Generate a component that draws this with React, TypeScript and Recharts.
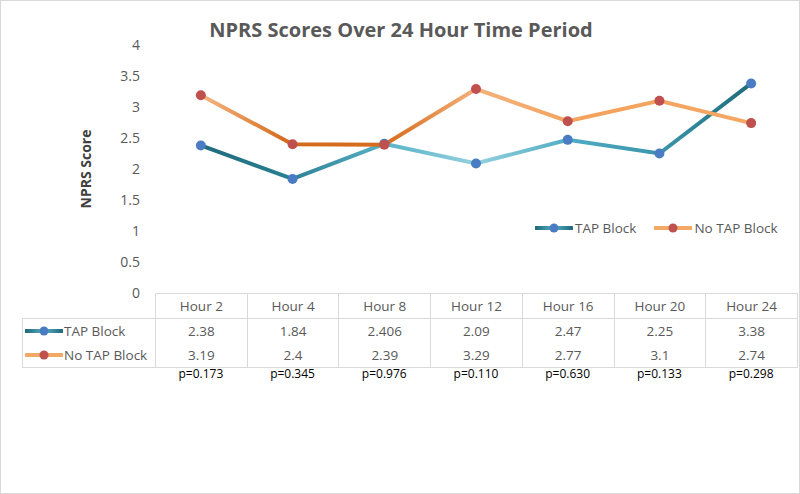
import React from 'react';
import { LineChart, Line, XAxis, YAxis } from 'recharts';

const hours = ['Hour 2', 'Hour 4', 'Hour 8', 'Hour 12', 'Hour 16', 'Hour 20', 'Hour 24'];
const tapBlock = [2.38, 1.84, 2.406, 2.09, 2.47, 2.25, 3.38];
const noTapBlock = [3.19, 2.4, 2.39, 3.29, 2.77, 3.1, 2.74];
const pValues = ['p=0.173', 'p=0.345', 'p=0.976', 'p=0.110', 'p=0.630', 'p=0.133', 'p=0.298'];
const yTicks = [0, 0.5, 1, 1.5, 2, 2.5, 3, 3.5, 4];

const seriesNames = ['TAP Block', 'No TAP Block'];

const chartData = hours.map((h, i) => ({ hour: h, tap: tapBlock[i], noTap: noTapBlock[i] }));

const FONT = '"Open Sans", sans-serif';
const GREY = '#595959';
const BORDER = '#d9d9d9';
const PLOT_LEFT = 155;
const PLOT_RIGHT = 3;
const COL_W = (800 - PLOT_LEFT - PLOT_RIGHT) / hours.length;
const FIRST_W = PLOT_LEFT - 22;

const LegendIcon = ({ grad, dot }: { grad: string; dot: string }) => (
    <svg width={38} height={12} style={{ display: 'block' }}>
        <line x1={1} y1={6} x2={37} y2={6} stroke={`url(#${grad})`} strokeWidth={4} strokeLinecap="round" />
        <circle cx={19} cy={6} r={4.5} fill={dot} />
    </svg>
);

const Gradients = () => (
    <defs>
        <linearGradient id="tapGrad" x1="0" y1="0" x2="1" y2="0">
            <stop offset="0" stopColor="#1f6b7a" />
            <stop offset="0.16" stopColor="#2a7f93" />
            <stop offset="0.33" stopColor="#58b1c7" />
            <stop offset="0.5" stopColor="#94d0de" />
            <stop offset="0.68" stopColor="#4eaac2" />
            <stop offset="0.84" stopColor="#3a94a9" />
            <stop offset="1" stopColor="#1f6b7a" />
        </linearGradient>
        <linearGradient id="noTapGrad" x1="0" y1="0" x2="1" y2="0">
            <stop offset="0" stopColor="#f6b784" />
            <stop offset="0.16" stopColor="#d3691b" />
            <stop offset="0.34" stopColor="#d76d1f" />
            <stop offset="0.5" stopColor="#f4b17b" />
            <stop offset="0.7" stopColor="#f3a25c" />
            <stop offset="1" stopColor="#f4a865" />
        </linearGradient>
    </defs>
);

export default function App() {
    const cellBase: React.CSSProperties = {
        borderLeft: `1px solid ${BORDER}`,
        borderRight: `1px solid ${BORDER}`,
        textAlign: 'center',
        verticalAlign: 'top',
        padding: 0,
        paddingTop: 3,
        height: 21,
        color: GREY,
    };

    return (
        <div style={{ position: 'relative', width: 800, height: 494, boxSizing: 'border-box', border: `1px solid ${BORDER}`, background: '#fff', fontFamily: FONT, overflow: 'hidden' }}>
            <style>{`body{margin:0}`}</style>
            {/* legend icon gradients */}
            <svg width={0} height={0} style={{ position: 'absolute' }}>
                <defs>
                    <linearGradient id="tapGradL" x1="1" y1="0" x2="37" y2="0" gradientUnits="userSpaceOnUse">
                        <stop offset="0" stopColor="#1f6b7a" />
                        <stop offset="0.5" stopColor="#58b1c7" />
                        <stop offset="1" stopColor="#1f6b7a" />
                    </linearGradient>
                    <linearGradient id="noTapGradL" x1="1" y1="0" x2="37" y2="0" gradientUnits="userSpaceOnUse">
                        <stop offset="0" stopColor="#f4a865" />
                        <stop offset="1" stopColor="#f4a865" />
                    </linearGradient>
                </defs>
            </svg>

            <div style={{ position: 'absolute', top: 15, left: 0, width: 800, textAlign: 'center', fontSize: 20, fontWeight: 700, color: GREY }}>
                NPRS Scores Over 24 Hour Time Period
            </div>

            <div style={{ position: 'absolute', left: -1, top: -1 }}>
                <LineChart width={800} height={494} data={chartData} margin={{ top: 45, right: PLOT_RIGHT, bottom: 201, left: 0 }}>
                    <Gradients />
                    <XAxis dataKey="hour" hide padding={{ left: COL_W / 2, right: COL_W / 2 }} />
                    <YAxis
                        width={PLOT_LEFT}
                        domain={[0, 4]}
                        ticks={yTicks}
                        axisLine={false}
                        tickLine={false}
                        tickSize={0}
                        tickMargin={15}
                        tick={{ fontSize: 14, fill: GREY, fontFamily: FONT }}
                        label={{ value: 'NPRS Score', angle: -90, position: 'insideLeft', offset: 86, style: { fontSize: 14, fontWeight: 700, fill: '#404040', fontFamily: FONT, textAnchor: 'middle' } }}
                    />
                    <Line
                        dataKey="tap"
                        name={seriesNames[0]}
                        stroke="url(#tapGrad)"
                        strokeWidth={4}
                        dot={{ r: 5, fill: '#4a7cc4', stroke: 'none' }}
                        isAnimationActive={false}
                    />
                    <Line
                        dataKey="noTap"
                        name={seriesNames[1]}
                        stroke="url(#noTapGrad)"
                        strokeWidth={4}
                        dot={{ r: 5, fill: '#c0504d', stroke: 'none' }}
                        isAnimationActive={false}
                    />
                </LineChart>
            </div>

            {/* legend */}
            <div style={{ position: 'absolute', left: 534, top: 218, display: 'flex', alignItems: 'center', fontSize: 13.5, color: GREY }}>
                <LegendIcon grad="tapGradL" dot="#4a7cc4" />
                <span style={{ marginLeft: 2, marginRight: 18 }}>{seriesNames[0]}</span>
                <LegendIcon grad="noTapGradL" dot="#c0504d" />
                <span style={{ marginLeft: 2 }}>{seriesNames[1]}</span>
            </div>

            {/* data table */}
            <table style={{ position: 'absolute', left: 21, top: 292, borderCollapse: 'collapse', tableLayout: 'fixed', width: FIRST_W + COL_W * hours.length, fontSize: 13.5 }}>
                <colgroup>
                    <col style={{ width: FIRST_W }} />
                    {hours.map(h => <col key={h} style={{ width: COL_W }} />)}
                </colgroup>
                <tbody>
                    <tr>
                        <td style={{ padding: 0, height: 24 }} />
                        {hours.map(h => (
                            <td key={h} style={{ ...cellBase, borderTop: `1px solid ${BORDER}`, borderBottom: `1px solid ${BORDER}` }}>{h}</td>
                        ))}
                    </tr>
                    <tr>
                        <td style={{ ...cellBase, borderTop: `1px solid ${BORDER}`, textAlign: 'left' }}>
                            <div style={{ display: 'flex', alignItems: 'center', paddingLeft: 2 }}>
                                <LegendIcon grad="tapGradL" dot="#4a7cc4" />
                                <span style={{ marginLeft: 1 }}>{seriesNames[0]}</span>
                            </div>
                        </td>
                        {tapBlock.map((v, i) => (
                            <td key={i} style={cellBase}>{v}</td>
                        ))}
                    </tr>
                    <tr>
                        <td style={{ ...cellBase, borderBottom: `1px solid ${BORDER}`, textAlign: 'left' }}>
                            <div style={{ display: 'flex', alignItems: 'center', paddingLeft: 2 }}>
                                <LegendIcon grad="noTapGradL" dot="#c0504d" />
                                <span style={{ marginLeft: 1 }}>{seriesNames[1]}</span>
                            </div>
                        </td>
                        {noTapBlock.map((v, i) => (
                            <td key={i} style={{ ...cellBase, borderBottom: `1px solid ${BORDER}` }}>{v}</td>
                        ))}
                    </tr>
                </tbody>
            </table>

            {/* p-values */}
            {pValues.map((p, i) => (
                <div key={p} style={{ position: 'absolute', top: 364, left: PLOT_LEFT + COL_W * i - 1, width: COL_W, textAlign: 'center', fontSize: 12, color: '#000' }}>
                    {p}
                </div>
            ))}
        </div>
    );
}
